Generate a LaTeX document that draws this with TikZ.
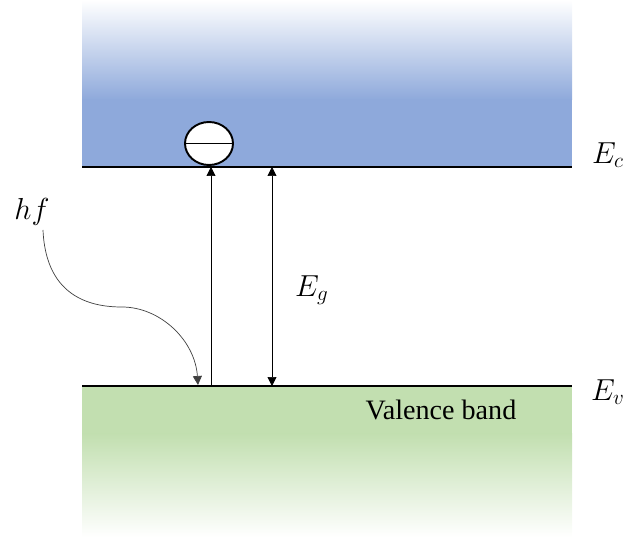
\documentclass[tikz,border=0pt]{standalone}
\usepackage{fontspec}
\setmainfont{Liberation Serif}
\usepackage{tikz}
\usetikzlibrary{arrows.meta, shapes.geometric, positioning, calc}
\definecolor{cbblue}{RGB}{142,169,219}
\definecolor{vbgreen}{RGB}{194,223,176}

\begin{document}
\begin{tikzpicture}[x=0.02cm, y=-0.02cm,
    level/.style={line width=1.2pt, black},
    arr/.style={thin, -{Triangle[length=1.8mm, width=1.8mm]}},
    darr/.style={thin, {Triangle[length=1.8mm, width=1.8mm]}-{Triangle[length=1.8mm, width=1.8mm]}},
    lbl/.style={font=\fontsize{17}{20}\selectfont},
    elec/.style={ellipse, draw, line width=1.1pt, fill=white, minimum width=0.96cm, minimum height=0.86cm, inner sep=0pt}
]
    \useasboundingbox (0,0) rectangle (630,537);

    % conduction band
    \shade[top color=white, bottom color=cbblue] (82,0) rectangle (572,100);
    \fill[cbblue] (82,99) rectangle (572,167);
    % valence band
    \fill[vbgreen] (82,386) rectangle (572,435);
    \shade[top color=vbgreen, bottom color=white] (82,434) rectangle (572,537);

    \coordinate (ecl) at (82,167);
    \coordinate (ecr) at (572,167);
    \coordinate (evl) at (82,386);
    \coordinate (evr) at (572,386);
    \draw[level] (ecl) -- (ecr);
    \draw[level] (evl) -- (evr);

    \node[lbl] (Ec) at (608,155) {$E_c$};
    \node[lbl] (Ev) at (608,392) {$E_v$};
    \node[lbl] (Eg) at (312,290) {$E_g$};
    \node[lbl] (hf) at (32,212) {$hf$};
    \node[font=\fontsize{16}{19}\selectfont] (vb) at (441,410) {Valence band};

    \node[elec] (e) at (209,143.5) {};
    \draw[thin] (e.west) -- (e.east);

    % excitation and gap
    \coordinate (a1) at (211,386);
    \coordinate (a2) at (211,167);
    \coordinate (g1) at (272,386);
    \coordinate (g2) at (272,167);
    \draw[arr] (a1) -- (a2);
    \draw[darr] (g1) -- (g2);

    % photon
    \coordinate (ph) at (198,385);
    \draw[arr, black!75] (43,230) .. controls (46,300) and (95,307) .. (122,307)
        .. controls (160,307) and (195,340) .. (ph);
\end{tikzpicture}
\end{document}
